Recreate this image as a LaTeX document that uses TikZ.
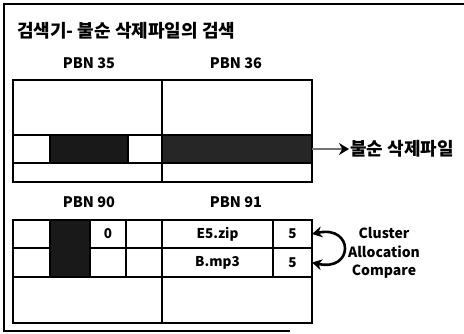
\documentclass[tikz,border=0pt]{standalone}
\usepackage{fontspec}
\setmainfont{Noto Sans CJK KR}
\usetikzlibrary{fit,arrows.meta}
\begin{document}
\begin{tikzpicture}[x=1pt,y=-1pt,
  cell/.style={draw, line width=2.3pt, rectangle, inner sep=0pt, outer sep=0pt},
  dark/.style={cell, fill=black!90},
  celltext/.style={font=\bfseries\fontsize{13.5}{15}\selectfont, inner sep=0pt},
  boxline/.style={line width=2.3pt},
  frame/.style={line width=1.6pt},
  lab/.style={font=\bfseries\fontsize{14.5}{16}\selectfont, inner sep=1pt},
  kor/.style={font=\bfseries\fontsize{18}{21}\selectfont, inner sep=1pt}]
\useasboundingbox (0,0) rectangle (464,333);
% outer frame (partially visible)
\draw[frame] (464,4) -- (4,4) -- (4,331) -- (290,331);
% title
\node[kor, anchor=west] (title) at (16,31) {검색기- 불순 삭제파일의 검색};
\node[lab] (p35) at (89,63) {PBN 35};
\node[lab] (p36) at (236,63) {PBN 36};
\node[lab] (p90) at (89,202) {PBN 90};
\node[lab] (p91) at (236,202) {PBN 91};
% top block
\node[cell, fit={(13,80)(312,182)}] (top) {};
\draw[boxline] (162,80) -- (162,182);
\node[cell, fit={(13,135)(50,163)}] (t1) {};
\node[dark, fit={(50,135)(128,163)}] (t2) {};
\node[cell, fit={(128,135)(162,163)}] (t3) {};
\node[dark, fill=black!85, fit={(162,135)(312,163)}] (t4) {};
% label and arrow
\node[kor, anchor=west] (del) at (349,149) {불순 삭제파일};
\draw[line width=2.8pt, black!55, -{Stealth[length=10pt,width=12pt,color=black]}] (t4.east) -- (del.west);
% bottom block
\node[cell, fit={(13,220)(312,323)}] (bot) {};
\draw[boxline] (162,220) -- (162,323);
\node[cell, fit={(13,220)(50,248)}] (b11) {};
\node[dark, fit={(50,220)(90,277)}] (b12) {};
\node[cell, fit={(90,220)(126,248)}] (b13) {};
\node[cell, fit={(126,220)(162,248)}] (b14) {};
\node[cell, fit={(162,220)(273,248)}] (b15) {};
\node[cell, fit={(273,220)(312,248)}] (b16) {};
\node[cell, fit={(13,248)(50,277)}] (b21) {};
\node[cell, fit={(90,248)(126,277)}] (b23) {};
\node[cell, fit={(126,248)(162,277)}] (b24) {};
\node[cell, fit={(162,248)(273,277)}] (b25) {};
\node[cell, fit={(273,248)(312,277)}] (b26) {};
\node[celltext] (v13) at (b13.center) {0};
\node[celltext] (v15) at (b15.center) {E5.zip};
\node[celltext] (v16) at (b16.center) {5};
\node[celltext] (v25) at (b25.center) {B.mp3};
\node[celltext] (v26) at (b26.center) {5};
% compare label and curved arrow
\node[lab, align=center, font=\bfseries\fontsize{14}{18.5}\selectfont] (cmp) at (384,253) {Cluster\\Allocation\\Compare};
\draw[line width=2.6pt, {Stealth[length=10pt,width=11pt]}-{Stealth[length=10pt,width=11pt]}] (b16.east) .. controls (354,225) and (354,272) .. (b26.east);
\end{tikzpicture}
\end{document}
